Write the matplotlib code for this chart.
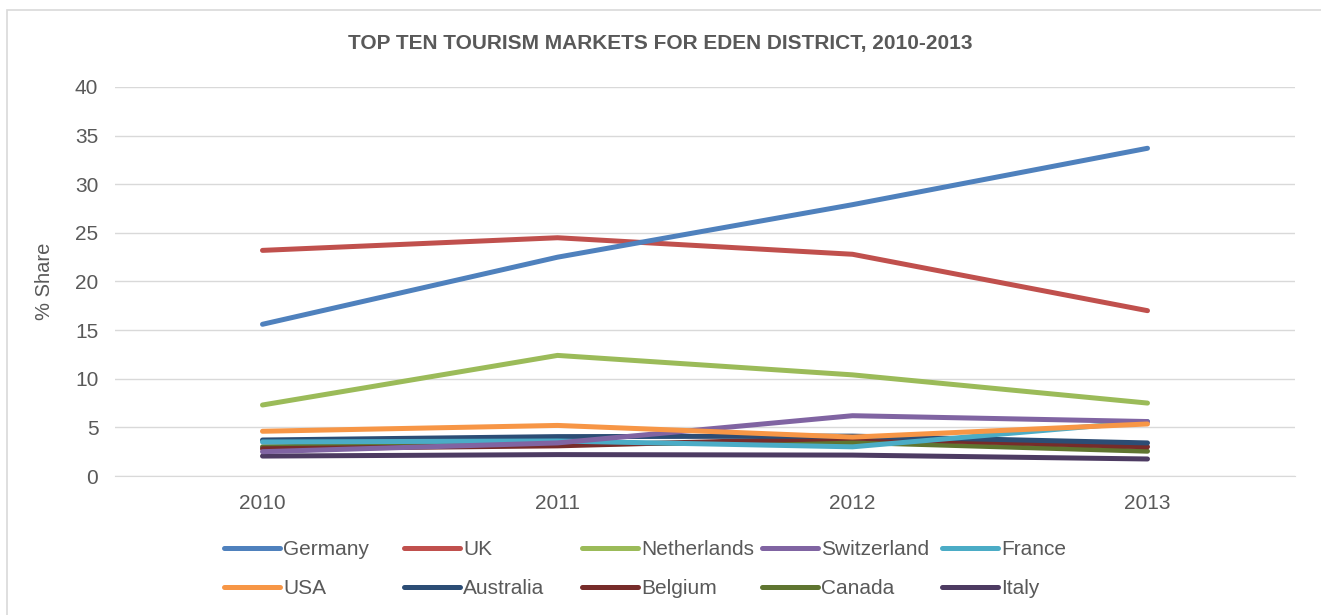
import matplotlib
matplotlib.use("Agg")
import matplotlib.pyplot as plt
from matplotlib.lines import Line2D
from matplotlib.patches import Rectangle

plt.rcParams['font.family'] = ['Liberation Sans', 'DejaVu Sans']

years = ["2010", "2011", "2012", "2013"]
germany = [15.6, 22.5, 27.9, 33.7]
uk = [23.2, 24.5, 22.8, 17.0]
netherlands = [7.3, 12.4, 10.4, 7.5]
switzerland = [2.5, 3.4, 6.2, 5.6]
france = [3.5, 3.6, 3.0, 5.6]
usa = [4.6, 5.2, 4.0, 5.35]
australia = [3.7, 4.05, 4.1, 3.4]
belgium = [2.8, 3.1, 3.9, 3.0]
canada = [3.0, 3.3, 3.45, 2.55]
italy = [2.05, 2.2, 2.15, 1.75]

names = ["Germany", "UK", "Netherlands", "Switzerland", "France",
         "USA", "Australia", "Belgium", "Canada", "Italy"]
series = [germany, uk, netherlands, switzerland, france,
          usa, australia, belgium, canada, italy]
colors = ["#4F81BD", "#C0504D", "#9BBB59", "#8064A2", "#4BACC6",
          "#F79646", "#2C4D75", "#772C2A", "#5F7530", "#4D3B62"]

FS = 15
W, H = 1321, 615
fig = plt.figure(figsize=(W / 100, H / 100), dpi=100)
ax = fig.add_axes([115 / W, 1 - 476 / H, (1295 - 115) / W, (476 - 87) / H])

x = list(range(len(years)))
order = [9, 8, 7, 6, 4, 3, 5, 2, 1, 0]
for i in order:
    ax.plot(x, series[i], color=colors[i], lw=3.6, solid_capstyle='round',
            solid_joinstyle='round', zorder=3)

ax.set_xlim(-0.5, 3.5)
ax.set_ylim(0, 40)
ax.set_yticks(range(0, 41, 5))
ax.set_xticks(x)
ax.set_xticklabels(years)
ax.grid(axis='y', color='#D9D9D9', lw=1)
ax.set_axisbelow(True)
for s in ['top', 'right', 'left']:
    ax.spines[s].set_visible(False)
ax.spines['bottom'].set_color('#D9D9D9')
ax.tick_params(axis='both', length=0, labelsize=FS, colors='#595959')
ax.tick_params(axis='y', pad=12)
ax.tick_params(axis='x', pad=13)
ax.set_ylabel('% Share', fontsize=14.5, color='#595959', labelpad=15)

fig.text(0.5, 1 - 44 / H, 'TOP TEN TOURISM MARKETS FOR EDEN DISTRICT, 2010-2013',
         ha='center', va='center', fontsize=FS, fontweight='bold', color='#595959')

col_x = [224, 404, 582, 762, 942]
for c in range(5):
    handles = [Line2D([], [], color=colors[c], lw=3.6, solid_capstyle='round'),
               Line2D([], [], color=colors[c + 5], lw=3.6, solid_capstyle='round')]
    labels = [names[c], names[c + 5]]
    fig.legend(handles, labels, loc='upper left',
               bbox_to_anchor=(col_x[c] / W, 1 - 540 / H),
               frameon=False, fontsize=FS, handlelength=2.7, handletextpad=0.15,
               labelspacing=0.98, borderpad=0, borderaxespad=0,
               labelcolor='#595959')

fig.patches.append(Rectangle((7 / W, -0.05), 1.2, 1 - 10 / H + 0.05,
                             transform=fig.transFigure, fill=False,
                             edgecolor='#D9D9D9', lw=1.2))

fig.savefig('out.png', dpi=100)
